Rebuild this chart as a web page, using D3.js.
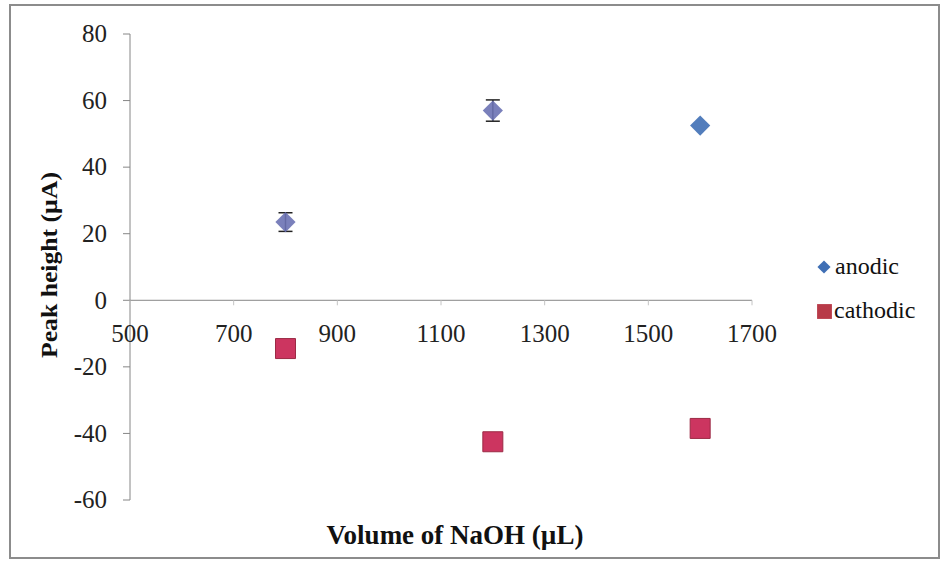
<!DOCTYPE html>
<html>
<head>
<meta charset="utf-8">
<script src="https://cdn.jsdelivr.net/npm/d3@7"></script>
<style>
  body { margin: 0; background: #fff; }
  text { font-family: "Liberation Serif", "Times New Roman", serif; }
</style>
</head>
<body>
<svg id="chart" width="942" height="566"></svg>
<script>
// data
const volumes = [800, 1200, 1600];
const anodic = [23.5, 57, 52.5];
const anodicErr = [2.8, 3.2, 0];
const cathodic = [-14.5, -42.5, -38.5];
const xTicks = [500, 700, 900, 1100, 1300, 1500, 1700];
const yTicks = [80, 60, 40, 20, 0, -20, -40, -60];

const svg = d3.select("#chart");

// outer frame
svg.append("rect")
    .attr("x", 10).attr("y", 5)
    .attr("width", 929).attr("height", 553)
    .attr("fill", "#fff")
    .attr("stroke", "#8c8c8c")
    .attr("stroke-width", 2);

const x = d3.scaleLinear().domain([500, 1700]).range([130, 752]);
const y = d3.scaleLinear().domain([-60, 80]).range([500, 34]);

// y axis line + ticks
svg.append("line")
    .attr("x1", x(500)).attr("x2", x(500))
    .attr("y1", y(80)).attr("y2", y(-60))
    .attr("stroke", "#868686").attr("stroke-width", 1);

svg.append("g").selectAll("line")
    .data(yTicks)
    .join("line")
    .attr("x1", x(500) - 7).attr("x2", x(500))
    .attr("y1", d => y(d)).attr("y2", d => y(d))
    .attr("stroke", "#868686");

svg.append("g").selectAll("text")
    .data(yTicks)
    .join("text")
    .attr("x", 107)
    .attr("y", d => y(d))
    .attr("dy", "0.33em")
    .attr("text-anchor", "end")
    .attr("font-size", 25)
    .attr("fill", "#222")
    .text(d => d);

// x axis at y = 0
svg.append("line")
    .attr("x1", x(500)).attr("x2", x(1700))
    .attr("y1", y(0)).attr("y2", y(0))
    .attr("stroke", "#868686").attr("stroke-width", 1);

svg.append("g").selectAll("line")
    .data(xTicks)
    .join("line")
    .attr("x1", d => x(d)).attr("x2", d => x(d))
    .attr("y1", y(0)).attr("y2", y(0) + 5)
    .attr("stroke", "#c4c4c4");

svg.append("g").selectAll("text")
    .data(xTicks)
    .join("text")
    .attr("x", d => x(d))
    .attr("y", y(0) + 42)
    .attr("text-anchor", "middle")
    .attr("font-size", 25)
    .attr("fill", "#222")
    .text(d => d);

// axis titles
svg.append("text")
    .attr("transform", `translate(57,${265}) rotate(-90)`)
    .attr("text-anchor", "middle")
    .attr("font-size", 24)
    .attr("font-weight", "bold")
    .attr("fill", "#111")
    .attr("textLength", 186)
    .attr("lengthAdjust", "spacingAndGlyphs")
    .text("Peak height  (µA)");

svg.append("text")
    .attr("x", 455).attr("y", 544)
    .attr("text-anchor", "middle")
    .attr("font-size", 27)
    .attr("font-weight", "bold")
    .attr("fill", "#111")
    .text("Volume of NaOH (µL)");

// error bars for anodic
const err = svg.append("g").attr("stroke", "#222").attr("stroke-width", 1.5);
volumes.forEach((v, i) => {
    if (!anodicErr[i]) return;
    const cx = x(v), top = y(anodic[i] + anodicErr[i]), bot = y(anodic[i] - anodicErr[i]);
    err.append("line").attr("x1", cx).attr("x2", cx).attr("y1", top).attr("y2", bot);
    err.append("line").attr("x1", cx - 7).attr("x2", cx + 7).attr("y1", top).attr("y2", top);
    err.append("line").attr("x1", cx - 7).attr("x2", cx + 7).attr("y1", bot).attr("y2", bot);
});

const diamond = d3.symbol().type(d3.symbolDiamond2).size(260);
const square = d3.symbol().type(d3.symbolSquare).size(400);

// anodic markers
svg.append("g").selectAll("path")
    .data(volumes)
    .join("path")
    .attr("transform", (d, i) => `translate(${x(d)},${y(anodic[i])})`)
    .attr("d", diamond)
    .attr("fill", (d, i) => i < 2 ? "#6b72b4" : "#3f6fb5")
    .attr("fill-opacity", 0.9);

// cathodic markers
svg.append("g").selectAll("path")
    .data(volumes)
    .join("path")
    .attr("transform", (d, i) => `translate(${x(d)},${y(cathodic[i])})`)
    .attr("d", square)
    .attr("fill", "#cc3560")
    .attr("stroke", "#9b2a45")
    .attr("stroke-width", 1);

// legend
const legend = svg.append("g");
legend.append("path")
    .attr("transform", "translate(824,267)")
    .attr("d", d3.symbol().type(d3.symbolDiamond2).size(110))
    .attr("fill", "#3f6fb5");
legend.append("text")
    .attr("x", 835).attr("y", 274)
    .attr("font-size", 24).attr("fill", "#111")
    .text("anodic");
legend.append("path")
    .attr("transform", "translate(824.5,311.5)")
    .attr("d", d3.symbol().type(d3.symbolSquare).size(220))
    .attr("fill", "#b83a48");
legend.append("text")
    .attr("x", 834).attr("y", 318)
    .attr("font-size", 24).attr("fill", "#111")
    .text("cathodic");
</script>
</body>
</html>
